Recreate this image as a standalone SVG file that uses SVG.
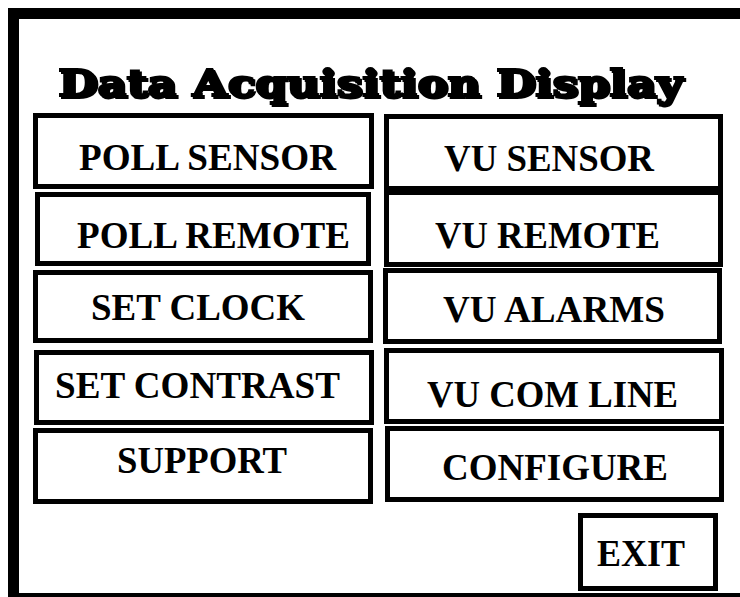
<svg xmlns="http://www.w3.org/2000/svg" width="740" height="597" viewBox="0 0 740 597">
<style>
.btn rect{fill:#fff;stroke:#000;stroke-width:5}
.btn text{font-family:"Liberation Serif","Times New Roman",serif;font-weight:bold;font-size:37px;fill:#000}
.title{font-family:"DejaVu Serif",serif;font-weight:bold;font-size:37px}
</style>
<defs>
<filter id="shadow" x="-5%" y="-20%" width="110%" height="150%">
<feOffset in="SourceAlpha" dx="2" dy="2" result="off"/>
<feMerge><feMergeNode in="off"/><feMergeNode in="SourceGraphic"/></feMerge>
</filter>
</defs>
<rect width="740" height="597" fill="#fff"/>
<g id="frame">
<path d="M745,13.5 H13.5 V598.5 H745" fill="none" stroke="#000" stroke-width="11"/>
</g>
<g id="title">
<text class="title" x="58" y="96" textLength="624" lengthAdjust="spacingAndGlyphs" fill="#000" stroke="#000" stroke-width="1.8" filter="url(#shadow)">Data Acquisition Display</text>
</g>
<g id="poll-sensor" class="btn"><rect x="35.5" y="115.5" width="336" height="71"/><text x="79" y="170" textLength="257" lengthAdjust="spacingAndGlyphs">POLL SENSOR</text></g>
<g id="poll-remote" class="btn"><rect x="37.5" y="194.5" width="331" height="69"/><text x="77" y="248" textLength="273" lengthAdjust="spacingAndGlyphs">POLL REMOTE</text></g>
<g id="set-clock" class="btn"><rect x="35.5" y="272.5" width="335" height="68"/><text x="91" y="320" textLength="214" lengthAdjust="spacingAndGlyphs">SET CLOCK</text></g>
<g id="set-contrast" class="btn"><rect x="36.5" y="352.5" width="335" height="70"/><text x="55" y="398" textLength="285" lengthAdjust="spacingAndGlyphs">SET CONTRAST</text></g>
<g id="support" class="btn"><rect x="35.5" y="430.5" width="335" height="71"/><text x="117" y="473" textLength="170" lengthAdjust="spacingAndGlyphs">SUPPORT</text></g>
<g id="vu-sensor" class="btn"><rect x="386.5" y="116.5" width="334" height="72"/><text x="444" y="171" textLength="210" lengthAdjust="spacingAndGlyphs">VU SENSOR</text></g>
<g id="vu-remote" class="btn"><rect x="386.5" y="192.5" width="334" height="72"/><text x="435" y="248" textLength="225" lengthAdjust="spacingAndGlyphs">VU REMOTE</text></g>
<g id="vu-alarms" class="btn"><rect x="385.5" y="270.5" width="334" height="71"/><text x="443" y="322" textLength="222" lengthAdjust="spacingAndGlyphs">VU ALARMS</text></g>
<g id="vu-com-line" class="btn"><rect x="386.5" y="350.5" width="335" height="71"/><text x="427" y="407" textLength="251" lengthAdjust="spacingAndGlyphs">VU COM LINE</text></g>
<g id="configure" class="btn"><rect x="387.5" y="428.5" width="334" height="71"/><text x="442" y="480" textLength="226" lengthAdjust="spacingAndGlyphs">CONFIGURE</text></g>
<g id="exit" class="btn"><rect x="580.5" y="515.5" width="135" height="73"/><text x="597" y="566" textLength="88" lengthAdjust="spacingAndGlyphs">EXIT</text></g>
<g id="connectors"/>
</svg>
